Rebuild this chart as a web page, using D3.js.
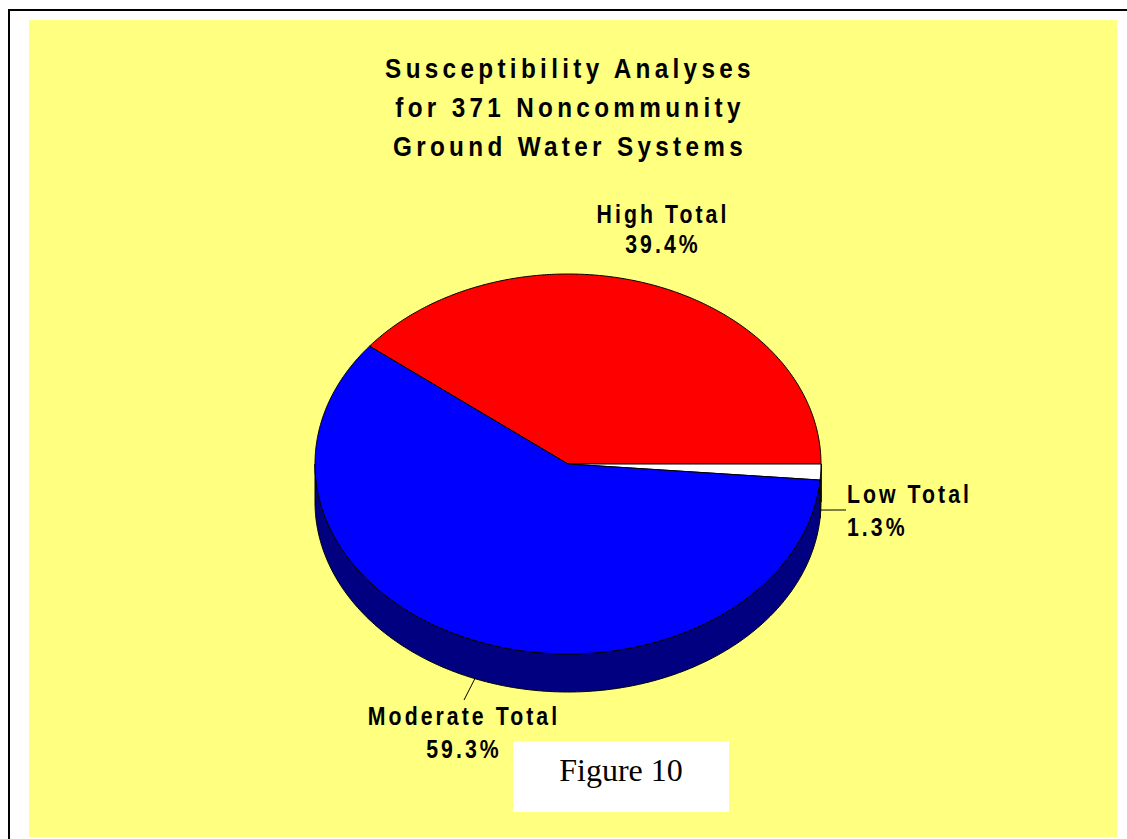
<!DOCTYPE html>
<html>
<head>
<meta charset="utf-8">
<script src="https://cdn.jsdelivr.net/npm/d3@7"></script>
<style>
  html, body { margin: 0; padding: 0; background: #ffffff; }
  svg { display: block; }
</style>
</head>
<body>
<svg id="chart" width="1127" height="839"></svg>
<script>
// ---- data ----
const categories = ["High Total", "Low Total", "Moderate Total"];
const counts = [146, 5, 220];          // of 371 systems
const titleLines = ["Susceptibility Analyses", "for 371 Noncommunity", "Ground Water Systems"];
const figureLabel = "Figure 10";

// ---- styling / layout ----
const topColors = ["#ff0000", "#ffffff", "#0000ff"];
const sideColors = ["#800000", "#808080", "#000080"];
const W = 1127, H = 839;
const cx = 568, cy = 464, rx = 253, ry = 190, depth = 38;

const svg = d3.select("#chart");

// frame lines and yellow plot area
svg.append("line").attr("x1", 8).attr("y1", 10).attr("x2", W).attr("y2", 10)
  .attr("stroke", "#000").attr("stroke-width", 2);
svg.append("line").attr("x1", 9).attr("y1", 9).attr("x2", 9).attr("y2", H)
  .attr("stroke", "#000").attr("stroke-width", 2);
svg.append("rect").attr("x", 29).attr("y", 20).attr("width", 1088).attr("height", 817)
  .attr("fill", "#ffff80");

// title (slightly condensed bold sans, wide tracking)
const tSx = 0.9;
const title = svg.append("text")
  .attr("transform", `translate(570,0) scale(${tSx},1)`)
  .attr("text-anchor", "middle")
  .attr("font-family", "'Liberation Sans', Arial, sans-serif")
  .attr("font-weight", "bold")
  .attr("font-size", 27)
  .style("letter-spacing", "4.8px")
  .attr("fill", "#000");
titleLines.forEach((t, i) => {
  title.append("tspan").attr("x", 0).attr("y", 78 + i * 39).text(t);
});

// pie layout (angles: 0 at 12 o'clock, clockwise)
const total = d3.sum(counts);
const start = Math.PI / 2 - 2 * Math.PI * counts[0] / total;
const pie = d3.pie().sort(null).startAngle(start).endAngle(start + 2 * Math.PI);
const arcs = pie(counts);

const px = a => cx + rx * Math.sin(a);
const py = (a, dz = 0) => cy - ry * Math.cos(a) + dz;

function topPath(a0, a1) {
  const p = d3.path();
  p.moveTo(cx, cy);
  const n = Math.max(2, Math.ceil((a1 - a0) / 0.01));
  for (let i = 0; i <= n; i++) {
    const a = a0 + (a1 - a0) * i / n;
    p.lineTo(px(a), py(a));
  }
  p.closePath();
  return p.toString();
}
function sidePath(a0, a1) {
  const p = d3.path();
  const n = Math.max(2, Math.ceil((a1 - a0) / 0.01));
  for (let i = 0; i <= n; i++) {
    const a = a0 + (a1 - a0) * i / n;
    if (i === 0) p.moveTo(px(a), py(a)); else p.lineTo(px(a), py(a));
  }
  for (let i = n; i >= 0; i--) {
    const a = a0 + (a1 - a0) * i / n;
    p.lineTo(px(a), py(a, depth));
  }
  p.closePath();
  return p.toString();
}

// sides: visible front part is where angle (mod 2pi) lies in [pi/2, 3pi/2]
const gSide = svg.append("g");
arcs.forEach((d, i) => {
  for (let k = -1; k <= 1; k++) {
    const w0 = Math.PI / 2 + k * 2 * Math.PI, w1 = 3 * Math.PI / 2 + k * 2 * Math.PI;
    const a0 = Math.max(d.startAngle, w0), a1 = Math.min(d.endAngle, w1);
    if (a1 > a0) {
      gSide.append("path").attr("d", sidePath(a0, a1))
        .attr("fill", sideColors[i]).attr("stroke", "#000").attr("stroke-width", 1)
        .attr("stroke-linejoin", "round");
    }
  }
});

// tops
const gTop = svg.append("g");
arcs.forEach((d, i) => {
  gTop.append("path").attr("d", topPath(d.startAngle, d.endAngle))
    .attr("fill", topColors[i]).attr("stroke", "#000").attr("stroke-width", 1)
    .attr("stroke-linejoin", "round");
});

// labels
const fmt = d3.format(".1%");
const lSx = 0.85;
const labelPos = [
  { x: 663, y: 223, gap: 30, anchor: "middle", leader: null },
  { x: 847, y: 503, gap: 33, anchor: "start", leader: [846, 510] },
  { x: 464, y: 725, gap: 33, anchor: "middle", leader: [464, 700] }
];
const gLab = svg.append("g");
arcs.forEach((d, i) => {
  const lp = labelPos[i];
  const mid = (d.startAngle + d.endAngle) / 2;
  if (lp.leader) {
    gLab.append("line")
      .attr("x1", px(mid)).attr("y1", py(mid, depth))
      .attr("x2", lp.leader[0]).attr("y2", lp.leader[1])
      .attr("stroke", "#000").attr("stroke-width", 1);
  }
  const t = gLab.append("text")
    .attr("transform", `translate(${lp.x},${lp.y}) scale(${lSx},1)`)
    .attr("text-anchor", lp.anchor)
    .attr("font-family", "'Liberation Sans', Arial, sans-serif")
    .attr("font-weight", "bold")
    .attr("font-size", 25)
    .style("letter-spacing", "3.6px")
    .attr("fill", "#000");
  t.append("tspan").attr("x", 0).attr("y", 0).text(categories[i]);
  t.append("tspan").attr("x", 0).attr("y", lp.gap).text(fmt(d.data / total));
});

// figure label box
svg.append("rect").attr("x", 513).attr("y", 741).attr("width", 216).attr("height", 71)
  .attr("fill", "#ffffff");
svg.append("text").attr("x", 621).attr("y", 781)
  .attr("text-anchor", "middle")
  .attr("font-family", "'Liberation Serif', 'Times New Roman', serif")
  .attr("font-size", 32)
  .attr("fill", "#000")
  .text(figureLabel);
</script>
</body>
</html>
